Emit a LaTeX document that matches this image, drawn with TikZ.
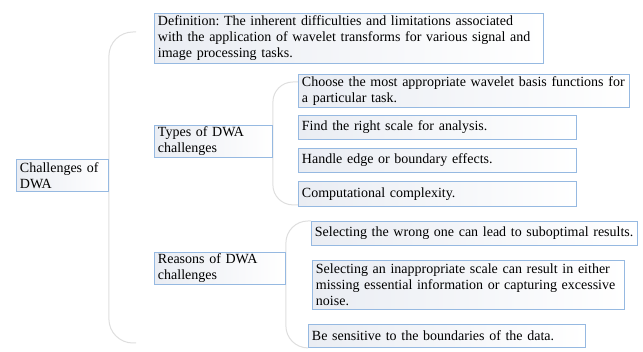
\documentclass[tikz,border=0pt]{standalone}
\usepackage{fontspec}
\setmainfont{Liberation Serif}
\usetikzlibrary{backgrounds}
\definecolor{boxblue}{RGB}{150, 185, 225}
\definecolor{boxgray}{RGB}{234, 237, 243}
\definecolor{bracegray}{RGB}{222, 222, 222}
\frenchspacing

\begin{document}
\begin{tikzpicture}[
        x=1pt, y=1pt,
        font=\fontsize{14}{16}\selectfont,
        cbox/.style={
            draw=boxblue,
            line width=0.9pt,
            left color=boxgray,
            right color=white,
            anchor=north west,
            align=left,
            inner xsep=3.5pt,
            inner ysep=0pt
        },
        bracket/.style={
            draw=bracegray,
            line width=1pt,
            rounded corners=24pt
        }
    ]
    \useasboundingbox (0,0) rectangle (643,-352);

    \node[cbox, text width=85pt, minimum height=32pt] (root) at (16,-159) {Challenges of\\DWA};

    \node[cbox, text width=382pt, minimum height=50pt] (def) at (154,-13)
        {Definition: The inherent difficulties and limitations associated\\with the application of wavelet transforms for various signal and\\image processing tasks.};
    \node[cbox, text width=111pt, minimum height=32pt] (types) at (154,-125) {Types of DWA\\challenges};
    \node[cbox, text width=124pt, minimum height=32pt] (reasons) at (154,-252) {Reasons of DWA\\challenges};

    \node[cbox, text width=324pt, minimum height=33pt] (choose) at (298,-74)
        {Choose the most appropriate wavelet basis functions for\\a particular task.};
    \node[cbox, text width=271pt, minimum height=24pt] (find) at (298,-115) {Find the right scale for analysis.};
    \node[cbox, text width=271pt, minimum height=24pt] (handle) at (298,-148) {Handle edge or boundary effects.};
    \node[cbox, text width=271pt, minimum height=25pt] (comp) at (298,-181) {Computational complexity.};

    \node[cbox, text width=319pt, minimum height=24pt] (wrong) at (311,-221) {Selecting the wrong one can lead to suboptimal results.};
    \node[cbox, text width=305pt, minimum height=49pt] (inapp) at (312,-260)
        {Selecting an inappropriate scale can result in either\\missing essential information or capturing excessive\\noise.};
    \node[cbox, text width=270pt, minimum height=23pt] (sens) at (308,-324) {Be sensitive to the boundaries of the data.};

    \coordinate (mtop) at (136,-32);
    \coordinate (mbot) at (136,-343);

    \begin{scope}[on background layer]
        \draw[bracket] (mtop) -| (root.east) |- (mbot);
        \draw[bracket, rounded corners=20pt] ([yshift=-8pt]choose.north west) -| (types.east) |- ([yshift=2pt]comp.south west);
        \draw[bracket, rounded corners=22pt] (wrong.north west) -| (reasons.east) |- (sens.south west);
    \end{scope}
\end{tikzpicture}
\end{document}
